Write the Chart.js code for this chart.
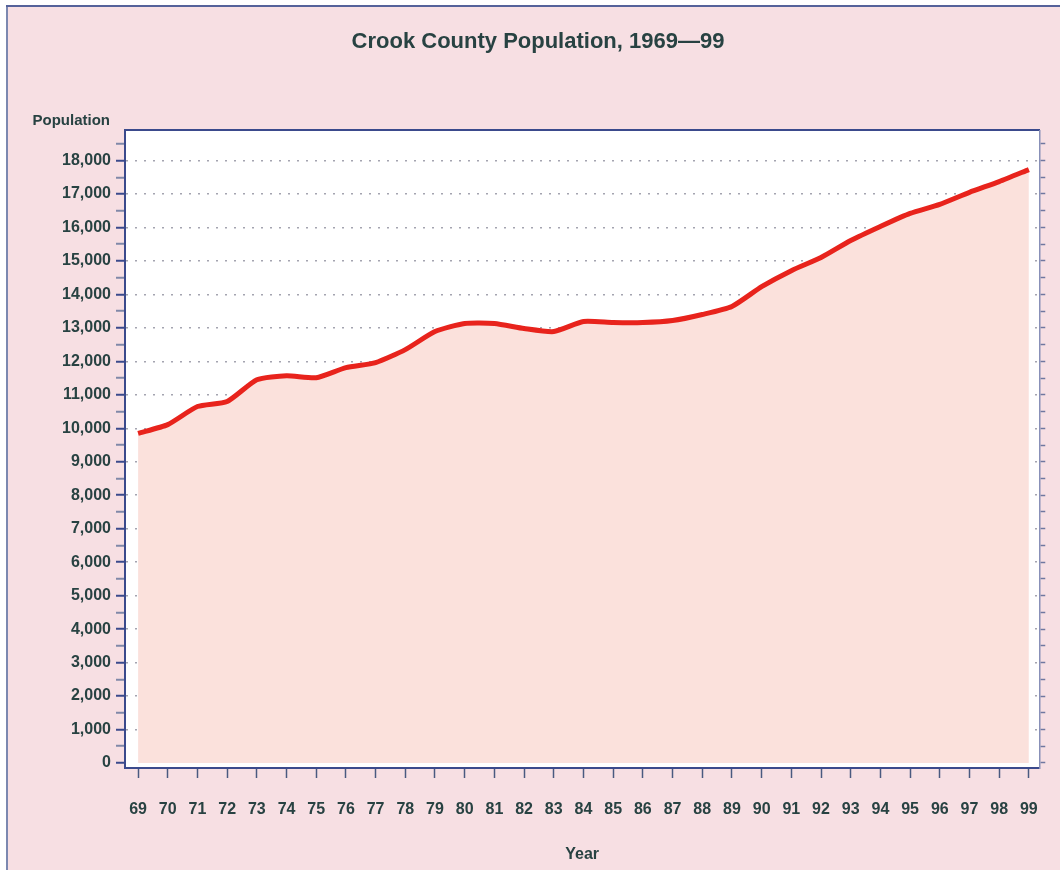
<!DOCTYPE html>
<html lang="en">
<head>
    <meta charset="UTF-8">
    <title>Crook County Population, 1969-99</title>
    <script src="https://cdn.jsdelivr.net/npm/chart.js@4.4.1/dist/chart.umd.min.js"></script>
    <style>
        body {
            margin: 0;
            background-color: #ffffff;
        }
        canvas {
            display: block;
        }
    </style>
</head>
<body>

<canvas id="popChart" width="1060" height="870"></canvas>

<script>
    // Years on the x axis and their two-digit labels
    const years = [1969, 1970, 1971, 1972, 1973, 1974, 1975, 1976, 1977, 1978,
                   1979, 1980, 1981, 1982, 1983, 1984, 1985, 1986, 1987, 1988,
                   1989, 1990, 1991, 1992, 1993, 1994, 1995, 1996, 1997, 1998, 1999];
    const yearLabels = ['69', '70', '71', '72', '73', '74', '75', '76', '77', '78',
                        '79', '80', '81', '82', '83', '84', '85', '86', '87', '88',
                        '89', '90', '91', '92', '93', '94', '95', '96', '97', '98', '99'];

    // Population
    const population = [9850, 10110, 10650, 10800, 11450, 11570, 11510, 11810, 11960, 12350,
                        12890, 13130, 13130, 12980, 12890, 13190, 13160, 13160, 13220, 13400,
                        13640, 14230, 14710, 15100, 15610, 16030, 16420, 16690, 17050, 17370, 17730];

    const textColor = '#284242';
    const axisColor = '#3b4a8c';
    const fontFamily = "'Liberation Sans', Arial, sans-serif";

    // pink page, thin frame, white plot area, "Population" label
    const backdrop = {
        id: 'backdrop',
        beforeDraw(chart) {
            const ctx = chart.ctx;
            const a = chart.chartArea;
            ctx.save();
            ctx.fillStyle = '#ffffff';
            ctx.fillRect(0, 0, chart.width, chart.height);
            ctx.fillStyle = '#f7dfe3';
            ctx.fillRect(8, 7, chart.width - 8, chart.height - 7);
            ctx.fillStyle = '#7c88b0';
            ctx.fillRect(6, 5, 2, chart.height - 5);
            ctx.fillStyle = '#55629a';
            ctx.fillRect(6, 5, chart.width - 6, 2);
            ctx.fillStyle = '#ffffff';
            ctx.fillRect(a.left, a.top, a.right - a.left, a.bottom - a.top);
            ctx.restore();
        },
        afterDraw(chart) {
            const ctx = chart.ctx;
            const a = chart.chartArea;
            ctx.save();
            ctx.font = "bold 15px " + fontFamily;
            ctx.fillStyle = textColor;
            ctx.textAlign = 'right';
            ctx.textBaseline = 'middle';
            ctx.fillText('Population', a.left - 15, a.top - 10);
            ctx.restore();
        }
    };

    const ctx = document.getElementById('popChart').getContext('2d');
    const chart = new Chart(ctx, {
        type: 'line',
        data: {
            datasets: [{
                label: 'Population',
                data: years.map((y, i) => ({x: y, y: population[i]})),
                borderColor: '#e8231c',
                backgroundColor: '#fbe1dc',
                fill: 'origin',
                pointRadius: 0,
                borderWidth: 5,
                tension: 0.2,
            }]
        },
        plugins: [backdrop],
        options: {
            responsive: false,
            animation: false,
            layout: {
                padding: {left: 16, right: 0, top: 0, bottom: 0}
            },
            plugins: {
                legend: {display: false},
                tooltip: {enabled: false},
                title: {
                    display: true,
                    text: 'Crook County Population, 1969\u201499',
                    color: textColor,
                    font: {family: fontFamily, size: 22, weight: 'bold', lineHeight: 1.2},
                    padding: {top: 29, bottom: 75},
                },
            },
            scales: {
                x: {
                    type: 'linear',
                    position: 'bottom',
                    min: 1968.56,
                    max: 1999.35,
                    afterBuildTicks: scale => {
                        scale.ticks = years.map(v => ({value: v}));
                    },
                    afterFit: scale => {
                        scale.height = 102;
                    },
                    ticks: {
                        color: textColor,
                        font: {family: fontFamily, size: 16, weight: 'bold'},
                        padding: 22,
                        maxRotation: 0,
                        autoSkip: false,
                        callback: (value) => yearLabels[years.indexOf(value)],
                    },
                    grid: {
                        drawOnChartArea: false,
                        tickLength: 10,
                        tickColor: '#4a5a80',
                        tickWidth: 1.5,
                    },
                    border: {color: axisColor, width: 2},
                    title: {
                        display: true,
                        text: 'Year',
                        color: textColor,
                        font: {family: fontFamily, size: 16, weight: 'bold', lineHeight: 1.2},
                        padding: {top: 0, bottom: 6},
                    },
                },
                xTop: {
                    type: 'linear',
                    position: 'top',
                    min: 1968.56,
                    max: 1999.35,
                    afterFit: scale => {
                        scale.height = 0;
                    },
                    ticks: {display: false},
                    grid: {drawOnChartArea: false, drawTicks: false},
                    border: {color: axisColor, width: 2},
                },
                y: {
                    min: -150,
                    max: 18900,
                    afterBuildTicks: scale => {
                        const t = [];
                        for (let v = 0; v <= 18500; v += 500) t.push({value: v});
                        scale.ticks = t;
                    },
                    afterFit: scale => {
                        scale.width = 109;
                    },
                    ticks: {
                        color: textColor,
                        font: {family: fontFamily, size: 16, weight: 'bold'},
                        padding: 5,
                        autoSkip: false,
                        callback: (value) => value % 1000 === 0 ? value.toLocaleString('en-US') : '',
                    },
                    grid: {
                        color: c => (c.tick && c.tick.value % 1000 === 0 && c.tick.value > 0) ? '#a4a4b0' : 'rgba(0,0,0,0)',
                        lineWidth: 1.5,
                        tickLength: 9,
                        tickColor: c => (c.tick && c.tick.value % 1000 === 0) ? axisColor : '#8088a8',
                        tickWidth: 2,
                    },
                    border: {color: axisColor, width: 2, dash: [2, 7]},
                },
                yRight: {
                    position: 'right',
                    min: -150,
                    max: 18900,
                    afterBuildTicks: scale => {
                        const t = [];
                        for (let v = 0; v <= 18500; v += 500) t.push({value: v});
                        scale.ticks = t;
                    },
                    afterFit: scale => {
                        scale.width = 17;
                    },
                    ticks: {display: false},
                    grid: {
                        drawOnChartArea: false,
                        tickLength: 6,
                        tickColor: '#7078a0',
                        tickWidth: 1.5,
                    },
                    border: {color: '#8890b8', width: 1.5},
                },
            },
        },
    });
</script>
</body>
</html>
